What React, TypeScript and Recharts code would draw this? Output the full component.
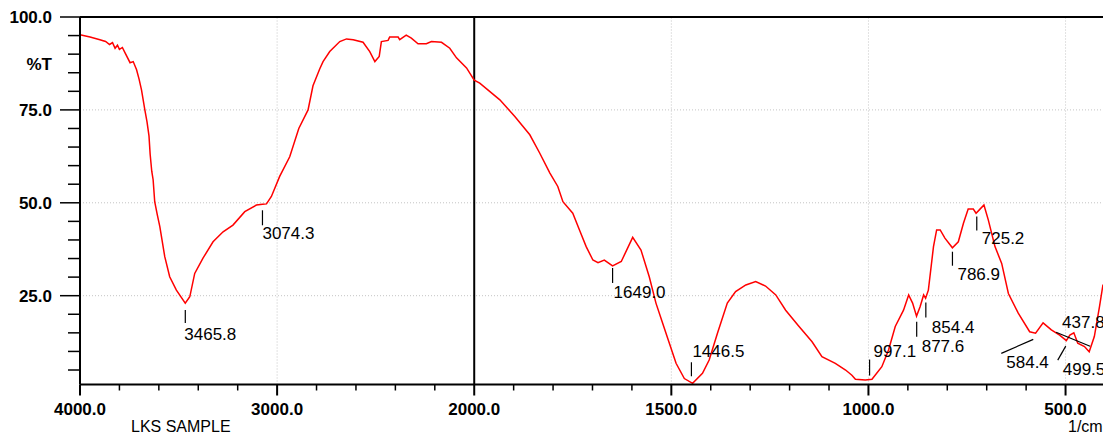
import { LineChart, Line, XAxis, YAxis, ReferenceLine, ReferenceDot } from "recharts";

// IR spectrum (wavenumber 1/cm, %T)
const wavenumbers = [
  4000, 3949, 3899, 3870, 3850, 3835, 3822, 3810, 3800, 3785, 3772, 3746, 3730, 3713, 3700, 3688, 3671, 3660, 3650, 3644,
  3636, 3629, 3621, 3608, 3595, 3570, 3545, 3511, 3466, 3443, 3418, 3376, 3325, 3274, 3224, 3164, 3105, 3074,
  3054, 3029, 2987, 2936, 2890, 2843, 2818, 2784, 2767, 2733, 2682, 2648, 2614, 2564, 2530, 2504,
  2482, 2471, 2437, 2429, 2386, 2378, 2345, 2319, 2285, 2243, 2217, 2166, 2124, 2090, 2039, 2000,
  1986, 1935, 1897, 1859, 1834, 1808, 1788, 1775, 1750, 1733, 1716, 1699, 1686, 1670, 1649, 1627, 1598, 1577,
  1556, 1539, 1522, 1505, 1488, 1467, 1446, 1421, 1404, 1383, 1358, 1337, 1311, 1286, 1261, 1235,
  1210, 1176, 1143, 1118, 1084, 1058, 1042, 1033, 1008, 991, 966, 949, 932, 911, 898, 888,
  878, 869, 860, 855, 848, 835, 827, 818, 806, 787, 772, 759, 747, 734, 727, 717,
  707, 696, 679, 662, 645, 620, 591, 576, 557, 536, 515, 498, 489, 479, 469, 452,
  440, 427, 414, 405,
];
const transmittance = [
  95.2, 94.6, 93.9, 93.4, 92.6, 93.1, 91.6, 92.4, 91.3, 91.8, 90.4, 87.7, 88.0, 85.8, 83.2, 80.4, 75.0, 71.8, 68.0, 63.0,
  58.5, 56.2, 50.3, 46.8, 43.6, 35.5, 30.1, 26.5, 23.0, 24.7, 31.0, 35.1, 39.5, 42.2, 44.0, 47.6, 49.4, 49.6,
  49.7, 51.7, 57.1, 62.4, 70.0, 75.0, 81.5, 86.0, 88.0, 90.7, 93.4, 94.1, 93.9, 93.2, 90.7, 88.0,
  89.4, 93.4, 93.7, 94.6, 94.6, 93.9, 95.1, 94.3, 92.8, 92.8, 93.4, 93.2, 91.6, 89.0, 86.3, 83.0,
  82.2, 77.7, 73.2, 68.3, 63.4, 58.0, 54.4, 50.3, 47.2, 42.7, 38.2, 34.6, 33.9, 34.6, 33.0, 34.2, 40.7, 37.3,
  30.1, 23.0, 17.6, 12.2, 6.8, 2.7, 1.4, 4.1, 7.7, 14.9, 23.0, 26.1, 27.9, 28.8, 27.6, 25.2,
  21.1, 16.7, 12.6, 8.6, 6.8, 5.0, 3.6, 2.5, 2.3, 2.5, 5.9, 10.4, 16.7, 21.1, 25.2, 23.0,
  19.5, 22.0, 25.2, 24.3, 26.5, 38.2, 42.7, 42.7, 40.5, 37.9, 39.5, 44.5, 48.3, 48.3, 47.2, 48.3,
  49.4, 45.4, 38.2, 33.7, 25.6, 20.3, 15.3, 14.9, 17.7, 15.8, 14.4, 12.9, 14.4, 15.0, 12.2, 11.3,
  9.9, 14.0, 22.0, 28.0,
];

const xMajorTicks = [4000, 3000, 2000, 1500, 1000, 500];
const xMinorTicks = [
  3800, 3600, 3400, 3200, 2800, 2600, 2400, 2200, 1900, 1800, 1700, 1600, 1400, 1300, 1200, 1100, 900, 800, 700, 600,
];
const yMajorTicks = [100, 75, 50, 25];
const yMinorTicks = [95, 90, 85, 80, 70, 65, 60, 55, 45, 40, 35, 30, 20, 15, 10, 5];
const xGridLines = [3000, 1500, 1000, 500];
const yGridLines = [75, 50, 25];

const peakWavenumbers = [3465.8, 3074.3, 1649.0, 1446.5, 997.1, 877.6, 854.4, 786.9, 725.2, 584.4, 499.5, 437.8];
const peakLabels = ["3465.8", "3074.3", "1649.0", "1446.5", "997.1", "877.6", "854.4", "786.9", "725.2", "584.4", "499.5", "437.8"];

// pixel offsets of each peak's tick line and text from its point on the curve
const peakMarks = [
  { l: [0, 7, 0, 20], t: [-1, 37] },
  { l: [0, 6, 0, 21], t: [0, 35] },
  { l: [0, 2, 0, 17], t: [1, 32] },
  { l: [-1, -21, -1, -7], t: [0, -26] },
  { l: [0, -20, 0, -4], t: [4, -23] },
  { l: [0, 6, 0, 21], t: [5, 36] },
  { l: [0, 5, 0, 20], t: [6, 35] },
  { l: [0, 4, 0, 18], t: [5, 32] },
  { l: [0, 4, 0, 18], t: [5, 32] },
  { l: [1, 7, -31, 21], t: [-26, 36] },
  { l: [0, 6, -8, 20], t: [-3, 35] },
  { l: [0, -3, -34, -17], t: [-28, -21] },
];

// the instrument doubles the scale below 2000 1/cm
const toT = (wn: number) => (wn >= 2000 ? 4000 - wn : 2000 + (2000 - wn) * 2);
const fromT = (t: number) => (t <= 2000 ? 4000 - t : 2000 - (t - 2000) / 2);

const valueAt = (wn: number) => {
  for (let i = 0; i < wavenumbers.length - 1; i++) {
    const a = wavenumbers[i];
    const b = wavenumbers[i + 1];
    if (wn <= a && wn >= b) {
      return transmittance[i] + ((a - wn) / (a - b)) * (transmittance[i + 1] - transmittance[i]);
    }
  }
  return transmittance[transmittance.length - 1];
};

const data = wavenumbers.map((wn, i) => ({ t: toT(wn), y: transmittance[i] }));

const FONT = '"Liberation Sans", Arial, sans-serif';

function XTick(props: any) {
  const { x, y, payload } = props;
  const wn = Math.round(fromT(payload.value));
  const major = xMajorTicks.includes(wn);
  return (
    <g>
      <line x1={x} x2={x} y1={y} y2={y + (major ? 11 : 6)} stroke="#000" strokeWidth={major ? 2 : 1.5} />
      {major && (
        <text x={x} y={y + 30.5} textAnchor="middle" fontSize={17} fontWeight="bold" fontFamily={FONT} fill="#000">
          {wn.toFixed(1)}
        </text>
      )}
    </g>
  );
}

function YTick(props: any) {
  const { x, y, payload } = props;
  const major = yMajorTicks.includes(payload.value);
  return (
    <g>
      <line x1={x - (major ? 20 : 12)} x2={x} y1={y} y2={y} stroke="#000" strokeWidth={1.5} />
      {major && (
        <text x={x - 28} y={y + 6} textAnchor="end" fontSize={17} fontWeight="bold" fontFamily={FONT} fill="#000">
          {payload.value.toFixed(1)}
        </text>
      )}
    </g>
  );
}

export default function App() {
  const xTicks = [...xMajorTicks, ...xMinorTicks].map(toT).sort((a, b) => a - b);
  const yTicks = [...yMajorTicks, ...yMinorTicks].sort((a, b) => a - b);

  return (
    <div style={{ position: "absolute", left: 0, top: 0, width: 1103, height: 434, fontFamily: FONT, overflow: "hidden" }}>
      <LineChart width={1103} height={434} data={data} margin={{ top: 17, right: 0, bottom: 0, left: 0 }}>
        <XAxis
          type="number"
          dataKey="t"
          domain={[0, toT(406)]}
          ticks={xTicks}
          interval={0}
          tick={<XTick />}
          tickLine={false}
          tickSize={0}
          tickMargin={0}
          height={49.5}
          axisLine={{ stroke: "#000", strokeWidth: 2 }}
        />
        <YAxis
          type="number"
          domain={[1.1, 100]}
          ticks={yTicks}
          interval={0}
          tick={<YTick />}
          tickLine={false}
          tickSize={0}
          tickMargin={0}
          width={80}
          axisLine={{ stroke: "#000", strokeWidth: 2 }}
        />
        {xGridLines.map((wn) => (
          <ReferenceLine key={"gx" + wn} x={toT(wn)} stroke="#c4c4c4" strokeDasharray="1 2" />
        ))}
        {yGridLines.map((v) => (
          <ReferenceLine key={"gy" + v} y={v} stroke="#c4c4c4" strokeDasharray="1 2" />
        ))}
        <ReferenceLine y={100} stroke="#000" strokeWidth={2} />
        <ReferenceLine x={toT(2000)} stroke="#000" strokeWidth={2} />
        <Line
          type="linear"
          dataKey="y"
          stroke="#ff0000"
          strokeWidth={1.5}
          dot={false}
          isAnimationActive={false}
        />
        {peakWavenumbers.map((wn, i) => {
          const m = peakMarks[i];
          return (
            <ReferenceDot
              key={"p" + wn}
              x={toT(wn)}
              y={valueAt(wn)}
              r={0}
              shape={(p: any) => (
                <g>
                  <line
                    x1={p.cx + m.l[0]}
                    y1={p.cy + m.l[1]}
                    x2={p.cx + m.l[2]}
                    y2={p.cy + m.l[3]}
                    stroke="#000"
                    strokeWidth={1.2}
                  />
                  <text x={p.cx + m.t[0]} y={p.cy + m.t[1]} fontSize={17} fontFamily={FONT} fill="#000">
                    {peakLabels[i]}
                  </text>
                </g>
              )}
            />
          );
        })}
      </LineChart>
      <div style={{ position: "absolute", right: 1103 - 52, top: 55, fontSize: 17, fontWeight: "bold" }}>%T</div>
      <div style={{ position: "absolute", left: 131, top: 418, fontSize: 16 }}>LKS SAMPLE</div>
      <div style={{ position: "absolute", left: 1068, top: 418, fontSize: 16 }}>1/cm</div>
    </div>
  );
}
